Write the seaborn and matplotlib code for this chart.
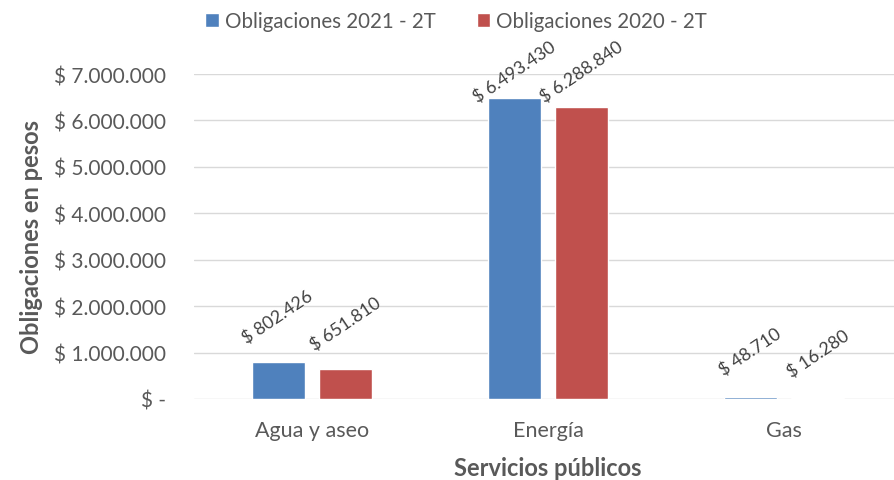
import matplotlib
matplotlib.use('Agg')
import matplotlib.pyplot as plt
import seaborn as sns
import pandas as pd
from matplotlib.ticker import FuncFormatter, MultipleLocator

# Datos
servicios = ['Agua y aseo', 'Energía', 'Gas']
series = ['Obligaciones 2021 - 2T', 'Obligaciones 2020 - 2T']
oblig_2021 = [802426, 6493430, 48710]
oblig_2020 = [651810, 6288840, 16280]
colores = ['#4F81BD', '#C0504D']

df = pd.DataFrame({
    'servicio': servicios * 2,
    'serie': [series[0]] * 3 + [series[1]] * 3,
    'valor': oblig_2021 + oblig_2020,
})

def pesos(v):
    if v == 0:
        return '$ -'
    return '$ ' + f'{int(round(v)):,}'.replace(',', '.')

sns.set_style('white')
plt.rcParams['font.family'] = ['Lato', 'DejaVu Sans']
gris = '#595959'

fig = plt.figure(figsize=(8.94, 4.81), dpi=100)
ax = fig.add_axes([194 / 894, 81 / 481, 708 / 894, 325 / 481])

sns.barplot(data=df, x='servicio', y='valor', hue='serie', palette=colores,
            width=0.576, gap=0.22, saturation=1, ax=ax, legend=True)

ax.set_xlim(-0.5, 2.5)
ax.set_ylim(0, 7000000)
ax.yaxis.set_major_locator(MultipleLocator(1000000))
ax.yaxis.set_major_formatter(FuncFormatter(lambda v, p: pesos(v)))
ax.grid(axis='y', color='#D9D9D9', linewidth=1)
ax.set_axisbelow(True)
for s in ax.spines.values():
    s.set_visible(False)
ax.tick_params(axis='y', length=0, pad=20, labelsize=15, labelcolor=gris)
ax.tick_params(axis='x', length=0, pad=15, labelsize=15.5, labelcolor=gris)

ax.set_xlabel('Servicios públicos', fontsize=17, fontweight='bold', color=gris, labelpad=12)
ax.set_ylabel('Obligaciones en pesos', fontsize=17, fontweight='bold', color=gris, labelpad=8)

# Etiquetas de datos rotadas
for cont in ax.containers:
    for bar in cont:
        v = bar.get_height()
        xc = bar.get_x() + bar.get_width() / 2
        yl = min(v + 970000, 7050000)
        ax.text(xc, yl, pesos(v), rotation=34, ha='center', va='center',
                fontsize=12.8, color='#404040', clip_on=False)

leg = ax.legend(loc='center', bbox_to_anchor=(456 / 894, 459 / 481),
                bbox_transform=fig.transFigure, ncol=2, frameon=False,
                fontsize=14.8, handlelength=0.65, handleheight=0.65,
                handletextpad=0.3, columnspacing=2.0, borderaxespad=0)
for t in leg.get_texts():
    t.set_color(gris)

fig.savefig('out.png', dpi=100)
